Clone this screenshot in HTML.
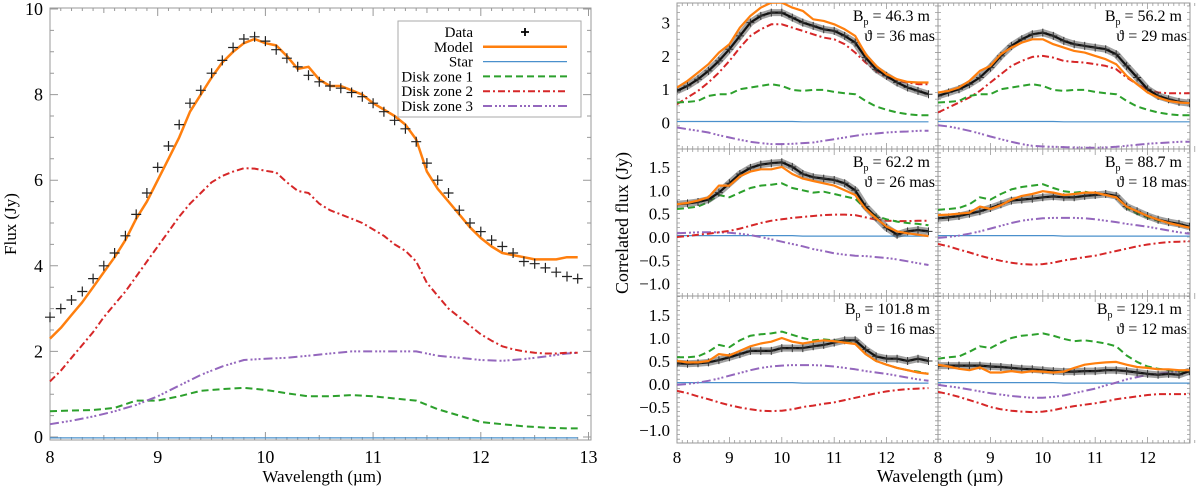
<!DOCTYPE html>
<html><head><meta charset="utf-8">
<style>
html,body{margin:0;padding:0;background:#fff;}
svg{display:block;font-family:"Liberation Serif","DejaVu Serif",serif;}
</style></head>
<body>
<svg id="fig" width="1200" height="488" viewBox="0 0 1200 488" xmlns="http://www.w3.org/2000/svg"></svg>
<script>
// ---------- LEFT PANEL DATA ----------
const L_x = [8.0,8.1,8.2,8.3,8.4,8.5,8.6,8.7,8.8,8.9,9.0,9.1,9.2,9.3,9.4,9.5,9.6,9.7,9.8,9.9,10.0,10.1,10.2,10.3,10.4,10.5,10.6,10.7,10.8,10.9,11.0,11.1,11.2,11.3,11.4,11.5,11.6,11.7,11.8,11.9,12.0,12.1,12.2,12.3,12.4,12.5,12.6,12.7,12.8,12.9];
const L_data = [2.8,3.0,3.2,3.4,3.7,4.0,4.3,4.7,5.2,5.7,6.3,6.8,7.3,7.8,8.1,8.5,8.8,9.1,9.3,9.35,9.25,9.05,8.85,8.65,8.45,8.3,8.2,8.15,8.05,7.95,7.8,7.6,7.4,7.2,6.9,6.4,6.0,5.7,5.3,5.0,4.8,4.6,4.45,4.3,4.1,4.05,3.95,3.85,3.75,3.7];
const L_model = [2.3,2.55,2.85,3.15,3.5,3.85,4.2,4.6,5.1,5.5,6.0,6.5,7.0,7.6,8.0,8.4,8.75,9.0,9.2,9.3,9.2,9.15,8.9,8.6,8.65,8.35,8.2,8.2,8.1,8.0,7.8,7.65,7.5,7.3,6.95,6.2,5.8,5.5,5.2,4.9,4.65,4.45,4.3,4.25,4.2,4.15,4.15,4.15,4.2,4.2];
const L_zone2 = [1.3,1.55,1.85,2.15,2.45,2.8,3.1,3.4,3.75,4.1,4.45,4.8,5.15,5.45,5.7,5.95,6.1,6.2,6.28,6.27,6.22,6.18,5.95,5.75,5.7,5.45,5.3,5.2,5.1,5.0,4.85,4.7,4.5,4.35,4.1,3.6,3.3,3.0,2.8,2.6,2.4,2.25,2.12,2.05,2.0,1.97,1.95,1.95,1.97,1.97];
const L_x2 = [8.0,8.2,8.4,8.6,8.8,9.0,9.2,9.4,9.6,9.8,10.0,10.2,10.4,10.6,10.8,11.0,11.2,11.4,11.6,11.8,12.0,12.2,12.4,12.6,12.8,12.9];
const L_zone1 = [0.6,0.62,0.63,0.68,0.85,0.85,0.95,1.08,1.12,1.15,1.1,1.02,0.95,0.95,0.98,0.95,0.9,0.85,0.65,0.5,0.35,0.3,0.25,0.22,0.2,0.2];
const L_zone3 = [0.3,0.38,0.48,0.6,0.75,0.95,1.2,1.45,1.65,1.8,1.83,1.85,1.9,1.95,2.0,2.0,2.0,2.0,1.9,1.85,1.8,1.78,1.82,1.88,1.95,1.97];
const L_star = [-0.02,-0.02,-0.02,-0.02,-0.02,-0.02,-0.02,-0.02,-0.02,-0.02,-0.02,-0.02,-0.02,-0.02,-0.02,-0.02,-0.02,-0.02,-0.02,-0.02,-0.02,-0.02,-0.02,-0.02,-0.02,-0.02];
const L_yticks = [0,2,4,6,8,10];
const L_xticks = [8,9,10,11,12,13];

// ---------- RIGHT PANELS DATA ----------
const R_x = [8.0,8.2,8.4,8.6,8.8,9.0,9.2,9.4,9.6,9.8,10.0,10.2,10.4,10.6,10.8,11.0,11.2,11.4,11.6,11.8,12.0,12.2,12.4,12.6,12.8];
const R_star = [0.03,0.03,0.03,0.03,0.03,0.03,0.03,0.03,0.03,0.03,0.03,0.03,0.02,0.02,0.02,0.02,0.02,0.02,0.02,0.02,0.02,0.02,0.02,0.02,0.02];
const R_baseline = ["46.3","56.2","62.2","88.7","101.8","129.1"];
const R_theta = ["36","29","26","18","16","12"];

const P1_data=[0.95,1.1,1.3,1.55,1.85,2.2,2.6,3.0,3.2,3.3,3.3,3.15,3.0,2.9,2.8,2.75,2.6,2.4,1.95,1.6,1.4,1.2,1.05,0.95,0.85];
const P1_model=[1.05,1.25,1.5,1.75,2.1,2.35,2.85,3.2,3.45,3.6,3.6,3.45,3.35,3.1,3.05,2.95,2.8,2.6,2.05,1.7,1.45,1.3,1.22,1.2,1.2];
const P1_z1=[0.6,0.62,0.65,0.8,0.85,0.85,1.0,1.05,1.1,1.15,1.1,0.98,0.95,0.98,0.98,0.92,0.88,0.85,0.65,0.48,0.38,0.3,0.25,0.22,0.22];
const P1_z2=[0.55,0.75,0.95,1.2,1.5,1.85,2.25,2.6,2.8,2.95,2.95,2.85,2.75,2.65,2.55,2.5,2.35,2.1,1.8,1.55,1.35,1.25,1.2,1.15,1.15];
const P1_z3=[-0.15,-0.2,-0.25,-0.3,-0.38,-0.45,-0.52,-0.58,-0.62,-0.65,-0.65,-0.64,-0.62,-0.6,-0.55,-0.5,-0.45,-0.4,-0.35,-0.33,-0.3,-0.28,-0.27,-0.25,-0.25];

const P2_data=[0.8,0.9,1.0,1.15,1.35,1.65,2.0,2.3,2.5,2.65,2.7,2.6,2.45,2.35,2.3,2.25,2.2,2.05,1.7,1.35,1.0,0.8,0.7,0.62,0.58];
const P2_model=[0.9,0.95,1.05,1.25,1.55,1.7,2.05,2.25,2.4,2.5,2.5,2.35,2.25,2.15,2.1,2.0,1.9,1.75,1.4,1.15,0.9,0.75,0.65,0.6,0.58];
const P2_z1=[0.6,0.62,0.65,0.8,0.85,0.85,1.0,1.05,1.1,1.15,1.1,0.98,0.95,0.98,0.98,0.92,0.88,0.85,0.65,0.48,0.38,0.3,0.25,0.22,0.22];
const P2_z2=[0.3,0.45,0.6,0.75,0.95,1.2,1.45,1.7,1.85,1.97,2.0,1.95,1.85,1.82,1.8,1.75,1.7,1.6,1.35,1.15,1.0,0.9,0.88,0.88,0.88];
const P2_z3=[-0.08,-0.12,-0.18,-0.25,-0.33,-0.42,-0.5,-0.58,-0.65,-0.7,-0.72,-0.73,-0.74,-0.75,-0.76,-0.76,-0.75,-0.73,-0.7,-0.67,-0.64,-0.62,-0.6,-0.58,-0.58];

const P3_data=[0.7,0.72,0.75,0.8,0.95,1.15,1.35,1.48,1.55,1.58,1.6,1.5,1.35,1.28,1.25,1.22,1.15,1.0,0.65,0.42,0.2,0.05,0.12,0.15,0.12];
const P3_model=[0.7,0.73,0.78,0.85,1.1,1.1,1.3,1.4,1.45,1.45,1.5,1.35,1.25,1.2,1.15,1.1,1.0,0.9,0.6,0.4,0.22,0.12,0.08,0.05,0.02];
const P3_z1=[0.6,0.62,0.65,0.75,0.9,0.85,0.95,1.05,1.1,1.12,1.15,1.05,1.0,0.95,0.97,0.92,0.87,0.82,0.6,0.45,0.38,0.33,0.3,0.28,0.25];
const P3_z2=[0.0,0.02,0.05,0.07,0.1,0.13,0.18,0.24,0.3,0.35,0.38,0.41,0.43,0.45,0.47,0.48,0.48,0.47,0.42,0.37,0.35,0.34,0.34,0.35,0.35];
const P3_z3=[0.08,0.09,0.1,0.1,0.1,0.09,0.07,0.04,0.0,-0.05,-0.1,-0.15,-0.2,-0.26,-0.3,-0.35,-0.38,-0.4,-0.41,-0.43,-0.45,-0.48,-0.52,-0.56,-0.6];

const P4_data=[0.4,0.42,0.45,0.5,0.55,0.62,0.7,0.78,0.8,0.82,0.85,0.87,0.85,0.85,0.88,0.9,0.92,0.88,0.65,0.55,0.45,0.37,0.32,0.28,0.22];
const P4_model=[0.47,0.48,0.5,0.52,0.65,0.6,0.68,0.8,0.88,0.92,0.98,0.95,0.9,0.92,0.95,0.95,0.9,0.85,0.65,0.55,0.45,0.37,0.3,0.25,0.2];
const P4_z1=[0.58,0.6,0.62,0.7,0.85,0.8,0.92,1.02,1.07,1.1,1.13,1.05,0.98,0.95,0.97,0.93,0.9,0.85,0.62,0.5,0.42,0.35,0.3,0.27,0.22];
const P4_z2=[-0.15,-0.2,-0.27,-0.33,-0.4,-0.46,-0.51,-0.55,-0.58,-0.59,-0.58,-0.55,-0.5,-0.47,-0.43,-0.4,-0.35,-0.3,-0.25,-0.2,-0.16,-0.13,-0.11,-0.1,-0.09];
const P4_z3=[-0.02,0.0,0.03,0.07,0.12,0.18,0.24,0.3,0.35,0.38,0.4,0.41,0.41,0.41,0.4,0.38,0.35,0.32,0.28,0.25,0.22,0.18,0.14,0.1,0.07];

const P5_data=[0.45,0.44,0.45,0.47,0.52,0.58,0.65,0.72,0.72,0.72,0.78,0.78,0.78,0.82,0.85,0.9,0.95,0.95,0.75,0.6,0.55,0.55,0.5,0.55,0.5];
const P5_model=[0.5,0.47,0.47,0.5,0.65,0.62,0.72,0.82,0.88,0.92,1.0,0.92,0.88,0.92,0.95,0.93,0.9,0.87,0.65,0.5,0.42,0.35,0.3,0.25,0.22];
const P5_z1=[0.58,0.58,0.6,0.7,0.85,0.8,0.95,1.05,1.08,1.1,1.14,1.07,1.0,0.95,0.97,0.95,0.92,0.88,0.65,0.5,0.42,0.35,0.3,0.27,0.22];
const P5_z2=[-0.15,-0.2,-0.27,-0.33,-0.4,-0.46,-0.51,-0.55,-0.58,-0.59,-0.58,-0.55,-0.5,-0.47,-0.43,-0.4,-0.35,-0.3,-0.25,-0.2,-0.16,-0.13,-0.11,-0.1,-0.09];
const P5_z3=[-0.02,0.0,0.03,0.07,0.12,0.18,0.24,0.3,0.35,0.38,0.4,0.41,0.41,0.41,0.4,0.38,0.35,0.32,0.28,0.25,0.22,0.18,0.14,0.1,0.07];

const P6_data=[0.4,0.4,0.4,0.4,0.4,0.38,0.37,0.35,0.33,0.32,0.3,0.28,0.27,0.27,0.28,0.28,0.3,0.3,0.28,0.25,0.22,0.2,0.22,0.2,0.28];
const P6_model=[0.42,0.38,0.33,0.3,0.36,0.25,0.25,0.28,0.25,0.28,0.27,0.25,0.27,0.35,0.42,0.45,0.47,0.48,0.42,0.37,0.35,0.32,0.32,0.3,0.3];
const P6_z1=[0.55,0.58,0.6,0.7,0.82,0.78,0.9,1.0,1.05,1.07,1.1,1.05,0.98,0.93,0.95,0.92,0.88,0.82,0.62,0.48,0.38,0.33,0.3,0.28,0.25];
const P6_z2=[-0.17,-0.22,-0.28,-0.35,-0.42,-0.5,-0.55,-0.58,-0.6,-0.61,-0.6,-0.57,-0.52,-0.48,-0.45,-0.42,-0.38,-0.33,-0.3,-0.27,-0.24,-0.22,-0.22,-0.22,-0.22];
const P6_z3=[-0.02,-0.05,-0.08,-0.12,-0.16,-0.2,-0.23,-0.26,-0.28,-0.3,-0.3,-0.28,-0.25,-0.2,-0.15,-0.1,-0.03,0.03,0.1,0.15,0.2,0.22,0.25,0.28,0.3];

const R_ticksTop = [0,1,2,3];
const R_ticksTopLbl = ["0","1","2","3"];
const R_ticks = [1.5,1.0,0.5,0.0,-0.5,-1.0];
const R_ticksLbl = ["1.5","1.0","0.5","0.0","\u22120.5","\u22121.0"];
const R_xticks = [8,9,10,11,12];

// ---------- DRAWING ----------
const NS="http://www.w3.org/2000/svg";
const svg=document.getElementById('fig');
const C={orange:"#ff7f0e",blue:"#4a90cc",green:"#2ca02c",red:"#d62728",purple:"#9467bd"};
const DASH={z1:"7,4",z2:"7,3,2,3",z3:"9,3,2,2,2,2,2,3"};

function mk(tag,attrs,parent){const e=document.createElementNS(NS,tag);for(const k in attrs)e.setAttribute(k,attrs[k]);(parent||svg).appendChild(e);return e;}
function txt(s,x,y,size,anchor,parent){const t=mk('text',{x:x,y:y,'font-size':size,'text-anchor':anchor||'middle',fill:'#000'},parent);t.textContent=s;return t;}

function drawLine(g,xs,ys,sx,sy,color,w,dash,name){
  let d='';
  for(let i=0;i<xs.length;i++){d+=(i?'L':'M')+sx(xs[i]).toFixed(1)+','+sy(ys[i]).toFixed(1);}
  const p=mk('path',{d:d,fill:'none',stroke:color,'stroke-width':w,'stroke-dasharray':dash||'none','stroke-linejoin':'round'},g);
  
  
  return p;
}
function drawCrosses(g,xs,ys,sx,sy,h,color,w,name){
  const gg=mk('g',{},g);
  
  
  let d='';
  for(let i=0;i<xs.length;i++){const X=sx(xs[i]),Y=sy(ys[i]);d+=`M${(X-h).toFixed(1)},${Y.toFixed(1)}h${2*h}M${X.toFixed(1)},${(Y-h).toFixed(1)}v${2*h}`;}
  mk('path',{d:d,stroke:color,'stroke-width':w,fill:'none'},gg);
}

// Left panel
(function(){
  const x0=50,x1=591,y0=8,y1=440;
  const sx=v=>50+(v-8)*107.7;
  const sy=v=>437-v*42.8;
  const g=mk('g',{});  
  mk('rect',{x:x0,y:y0,width:x1-x0,height:y1-y0,fill:'none',stroke:'#999','stroke-width':1},g);
  let td='';
  for(let v=0;v<=10.001;v+=0.5){const Y=sy(v);const L=(Math.abs(v-Math.round(v/2)*2)<0.01)?8:4;td+=`M${x0},${Y}h${L}M${x1},${Y}h${-L}`;}
  for(let v=8;v<=13.001;v+=0.1){const X=sx(v);const L=(Math.abs(v-Math.round(v))<0.01)?8:(Math.abs(v*2-Math.round(v*2))<0.01?5:3);td+=`M${X},${y1}v${-L}M${X},${y0}v${L}`;}
  mk('path',{d:td,stroke:'#999','stroke-width':1,fill:'none'},g);
  L_yticks.forEach(v=>{const t=txt(String(v),43,sy(v)+6,18,'end',g);});
  L_xticks.forEach(v=>{const t=txt(String(v),sx(v),463,18,'middle',g);});
  const yt=txt('Flux (Jy)',0,0,17,'middle',g); yt.setAttribute('transform','translate(16,224) rotate(-90)');
   
  const xt=txt('Wavelength (\u00b5m)',322,482,17,'middle',g);
   
  drawLine(g,L_x2,L_star,sx,sy,C.blue,1.2,null,'star-line');
  drawLine(g,L_x2,L_zone1,sx,sy,C.green,2,DASH.z1,'disk-zone-1-line');
  drawLine(g,L_x2,L_zone3,sx,sy,C.purple,2,DASH.z3,'disk-zone-3-line');
  drawLine(g,L_x,L_zone2,sx,sy,C.red,2,DASH.z2,'disk-zone-2-line');
  drawLine(g,L_x,L_model,sx,sy,C.orange,2.5,null,'model-line');
  drawCrosses(g,L_x,L_data,sx,sy,5,'#222',1.2,'data-points');
  // legend
  const lg=mk('g',{},g);  
  mk('rect',{x:398,y:21,width:183,height:96,fill:'#fff',stroke:'#aaa','stroke-width':1},lg);
  const items=[['Data',null],['Model',[C.orange,2.5,null]],['Star',[C.blue,1.2,null]],['Disk zone 1',[C.green,2,DASH.z1]],['Disk zone 2',[C.red,2,DASH.z2]],['Disk zone 3',[C.purple,2,DASH.z3]]];
  items.forEach((it,i)=>{
    const Y=32+i*14.8;
    const e=mk('g',{},lg);  
    txt(it[0],473,Y+5,15,'end',e);
    if(it[1]) mk('line',{x1:483,y1:Y,x2:567,y2:Y,stroke:it[1][0],'stroke-width':it[1][1],'stroke-dasharray':it[1][2]||'none'},e);
    else mk('path',{d:`M521,${Y}h8M525,${Y-4}v8`,stroke:'#000','stroke-width':1.8},e);
  });
})();

// Right panels
const panels=[
 {d:P1_data,m:P1_model,z1:P1_z1,z2:P1_z2,z3:P1_z3},
 {d:P2_data,m:P2_model,z1:P2_z1,z2:P2_z2,z3:P2_z3},
 {d:P3_data,m:P3_model,z1:P3_z1,z2:P3_z2,z3:P3_z3},
 {d:P4_data,m:P4_model,z1:P4_z1,z2:P4_z2,z3:P4_z3},
 {d:P5_data,m:P5_model,z1:P5_z1,z2:P5_z2,z3:P5_z3},
 {d:P6_data,m:P6_model,z1:P6_z1,z2:P6_z2,z3:P6_z3}
];
const rows=[{top:3,bot:149,zero:122.5,s:33.3},{top:149,bot:296,zero:237,s:46.7},{top:296,bot:443,zero:384,s:46}];
const cols=[{l:677,r:938},{l:938,r:1190}];
panels.forEach((P,i)=>{
  const row=rows[Math.floor(i/2)], col=cols[i%2];
  const sx=v=>col.l+(v-8)*52.4;
  const sy=v=>row.zero-v*row.s;
  const g=mk('g',{});  
  const cp='clip'+i;
  const cl=mk('clipPath',{id:cp},g); mk('rect',{x:col.l,y:row.top,width:col.r-col.l,height:row.bot-row.top},cl);
  mk('rect',{x:col.l,y:row.top,width:col.r-col.l,height:row.bot-row.top,fill:'none',stroke:'#999','stroke-width':1},g);
  let td='';
  for(let v=8;v<=12.95;v+=0.1){const X=sx(v);const L=(Math.abs(v-Math.round(v))<0.01)?6:3;td+=`M${X},${row.bot}v${-L}M${X},${row.top}v${L}`;}
  const yStep=i<2?0.2:0.1;
  for(let v=-1.5;v<=4;v+=yStep){const Y=sy(v);if(Y<row.top||Y>row.bot)continue;td+=`M${col.l},${Y}h3M${col.r},${Y}h-3`;}
  mk('path',{d:td,stroke:'#999','stroke-width':0.8,fill:'none'},g);
  if(i%2===0){
    const tv=i<2?R_ticksTop:R_ticks, tl=i<2?R_ticksTopLbl:R_ticksLbl;
    tv.forEach((v,k)=>{const t=txt(tl[k],670,sy(v)+6,17,'end',g);});
  }
  if(i>=4){
    R_xticks.forEach(v=>{const t=txt(String(v),sx(v),463,17,'middle',g);});
  }
  const pg=mk('g',{'clip-path':`url(#${cp})`},g);
  drawLine(pg,R_x,R_star,sx,sy,C.blue,1.2,null,'star-line');
  drawLine(pg,R_x,P.z3,sx,sy,C.purple,2,DASH.z3,'disk-zone-3-line');
  drawLine(pg,R_x,P.z2,sx,sy,C.red,2,DASH.z2,'disk-zone-2-line');
  drawLine(pg,R_x,P.z1,sx,sy,C.green,2,DASH.z1,'disk-zone-1-line');
  drawLine(pg,R_x,P.d,sx,sy,'#555',7,null,'data-error-band').setAttribute('stroke-opacity','0.55');
  drawLine(pg,R_x,P.d,sx,sy,'#111',2.2,null,'data-line');
  drawCrosses(pg,R_x,P.d,sx,sy,4,'#333',1,'data-points');
  drawLine(pg,R_x,P.m,sx,sy,C.orange,2.2,null,'model-line');
  const ax=col.r-8;
  const a=mk('text',{x:ax,y:row.top+18,'font-size':16,'text-anchor':'end',fill:'#000'},g);
   
  const t1=mk('tspan',{},a); t1.textContent='B';
  const t2=mk('tspan',{dy:4,'font-size':10},a); t2.textContent='p';
  const t3=mk('tspan',{dy:-4},a); t3.textContent=' = '+R_baseline[i]+' m';
  const b=txt('\u03d1 = '+R_theta[i]+' mas',col.r-3,row.top+38,16,'end',g);
   
});
const ryt=txt('Correlated flux (Jy)',0,0,18,'middle');
ryt.setAttribute('transform','translate(628,223) rotate(-90)');
 
const rxt=txt('Wavelength (\u00b5m)',940,482,18,'middle');
 
</script>
</body></html>
